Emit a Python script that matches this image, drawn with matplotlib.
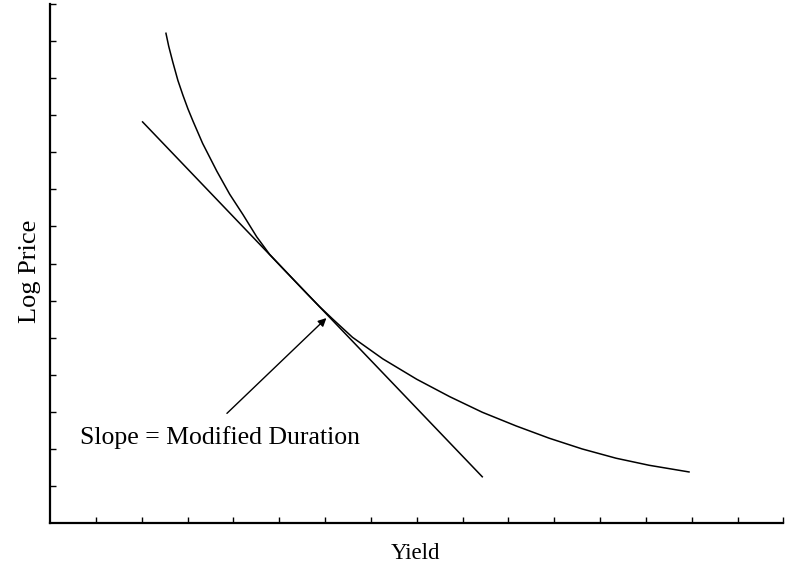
import numpy as np
import matplotlib
matplotlib.use("Agg")
import matplotlib.pyplot as plt

# price-yield curve (log price vs yield)
curve_x = [2.53, 2.59, 2.68, 2.79, 2.90, 3.01, 3.12, 3.33, 3.64, 3.92, 4.21,
           4.51, 4.79, 5.08, 5.38, 5.62, 5.88, 6.17, 6.60, 7.26, 8.00, 8.72,
           9.43, 10.17, 10.89, 11.61, 12.35, 13.07, 13.94]
curve_y = [13.21, 12.86, 12.43, 11.94, 11.54, 11.17, 10.84, 10.24, 9.49, 8.87, 8.32,
           7.72, 7.25, 6.87, 6.48, 6.17, 5.84, 5.50, 5.01, 4.43, 3.88, 3.41,
           2.99, 2.62, 2.29, 2.00, 1.75, 1.56, 1.38]

# tangent line end points
tangent_x = [2.02, 9.43]
tangent_y = [10.82, 1.25]

label_text = "Slope = Modified Duration"
arrow_tail = (3.86, 2.96)
arrow_head = (6.03, 5.53)

plt.rcParams['font.family'] = ['Liberation Serif', 'DejaVu Serif']

fig = plt.figure(figsize=(7.87, 5.68), dpi=100)
ax = fig.add_axes([0.0635, 0.079, 0.932, 0.914])

ax.plot(curve_x, curve_y, '-k', lw=1.1, solid_joinstyle='round')
ax.plot(tangent_x, tangent_y, '-k', lw=1.1)

ax.annotate("", xy=arrow_head, xytext=arrow_tail,
            arrowprops=dict(arrowstyle='-|>', color='k', lw=1.0,
                            mutation_scale=12, shrinkA=0, shrinkB=0))
ax.text(0.65, 2.32, label_text, fontsize=18.5, va='center', ha='left')

ax.set_xlim(0, 16)
ax.set_ylim(0, 14)
ax.set_xticks(np.arange(1, 17))
ax.set_yticks(np.arange(1, 15))
ax.set_xticklabels([])
ax.set_yticklabels([])
ax.tick_params(direction='in', length=4, width=1.0)

for s in ['top', 'right']:
    ax.spines[s].set_visible(False)
for s in ['left', 'bottom']:
    ax.spines[s].set_linewidth(1.6)

ax.set_xlabel("Yield", fontsize=16.5, va='center')
ax.xaxis.set_label_coords(0.498, -0.058)
ax.set_ylabel("Log Price", fontsize=19, va='center')
ax.yaxis.set_label_coords(-0.027, 0.486)

fig.savefig("out.png", dpi=100)
